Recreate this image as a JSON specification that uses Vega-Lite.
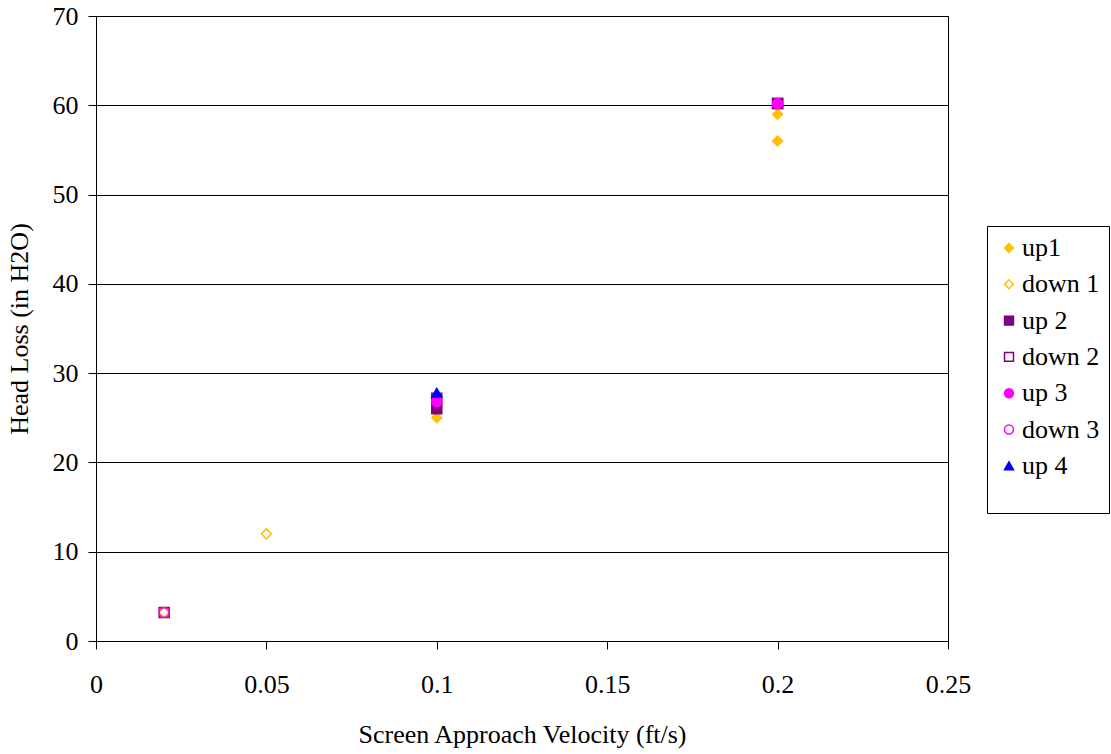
{
  "$schema": "https://vega.github.io/schema/vega-lite/v6.json",
  "autosize": "none",
  "width": 852,
  "height": 625,
  "padding": {"left": 96, "top": 16, "right": 163, "bottom": 113},
  "background": "white",
  "config": {
    "font": "Liberation Serif",
    "view": {"stroke": "black", "strokeWidth": 1}
  },
  "data": {
    "values": [
      {"v": 0.1, "h": 25, "s": "up1"},
      {"v": 0.2, "h": 59, "s": "up1"},
      {"v": 0.2, "h": 56, "s": "up1"},
      {"v": 0.02, "h": 3.2, "s": "down 1"},
      {"v": 0.05, "h": 12, "s": "down 1"},
      {"v": 0.1, "h": 26, "s": "up 2"},
      {"v": 0.2, "h": 60.2, "s": "up 2"},
      {"v": 0.02, "h": 3.2, "s": "down 2"},
      {"v": 0.1, "h": 27.2, "s": "down 2"},
      {"v": 0.2, "h": 60.2, "s": "down 2"},
      {"v": 0.1, "h": 26.8, "s": "up 3"},
      {"v": 0.2, "h": 60.2, "s": "up 3"},
      {"v": 0.02, "h": 3.2, "s": "down 3"},
      {"v": 0.1, "h": 27.8, "s": "up 4"}
    ]
  },
  "mark": {"type": "point", "size": 100, "strokeWidth": 1.5, "opacity": 1},
  "encoding": {
    "x": {
      "field": "v", "type": "quantitative",
      "scale": {"domain": [0, 0.25], "nice": false, "zero": true},
      "axis": {
        "values": [0, 0.05, 0.1, 0.15, 0.2, 0.25],
        "labelExpr": "'' + datum.value",
        "grid": false, "domain": true, "domainColor": "black",
        "tickColor": "black", "tickSize": 8,
        "labelFontSize": 26, "labelColor": "black", "labelPadding": 22,
        "labelFlush": false,
        "title": "Screen Approach Velocity (ft/s)",
        "titleFontSize": 26, "titleFontWeight": "normal", "titleColor": "black",
        "titlePadding": 24
      }
    },
    "y": {
      "field": "h", "type": "quantitative",
      "scale": {"domain": [0, 70], "nice": false},
      "axis": {
        "values": [0, 10, 20, 30, 40, 50, 60, 70],
        "grid": true, "gridColor": "black", "gridOpacity": 1, "gridWidth": 1,
        "domain": true, "domainColor": "black",
        "tickColor": "black", "tickSize": 8,
        "labelFontSize": 26, "labelColor": "black", "labelPadding": 10,
        "title": "Head Loss (in H2O)",
        "titleFontSize": 26, "titleFontWeight": "normal", "titleColor": "black",
        "titlePadding": 20
      }
    },
    "shape": {
      "field": "s", "type": "nominal",
      "scale": {
        "domain": ["up1", "down 1", "up 2", "down 2", "up 3", "down 3", "up 4"],
        "range": ["diamond", "diamond", "square", "square", "circle", "circle", "triangle-up"]
      }
    },
    "stroke": {
      "field": "s", "type": "nominal",
      "scale": {
        "domain": ["up1", "down 1", "up 2", "down 2", "up 3", "down 3", "up 4"],
        "range": ["#FFC000", "#FFC000", "#800080", "#800080", "#FF00FF", "#FF00FF", "#0000FF"]
      }
    },
    "fill": {
      "field": "s", "type": "nominal",
      "scale": {
        "domain": ["up1", "down 1", "up 2", "down 2", "up 3", "down 3", "up 4"],
        "range": ["#FFC000", "transparent", "#800080", "transparent", "#FF00FF", "transparent", "#0000FF"]
      },
      "legend": {
        "title": " ",
        "titleOrient": "bottom",
        "titleFontSize": 18,
        "titlePadding": 7,
        "orient": "none",
        "legendX": 891,
        "legendY": 210,
        "labelFontSize": 26,
        "labelColor": "black",
        "symbolSize": 80,
        "symbolStrokeWidth": 1.5,
        "rowPadding": 10.3,
        "labelOffset": 0,
        "strokeColor": "black",
        "padding": 9,
        "fillColor": "white"
      }
    }
  }
}
